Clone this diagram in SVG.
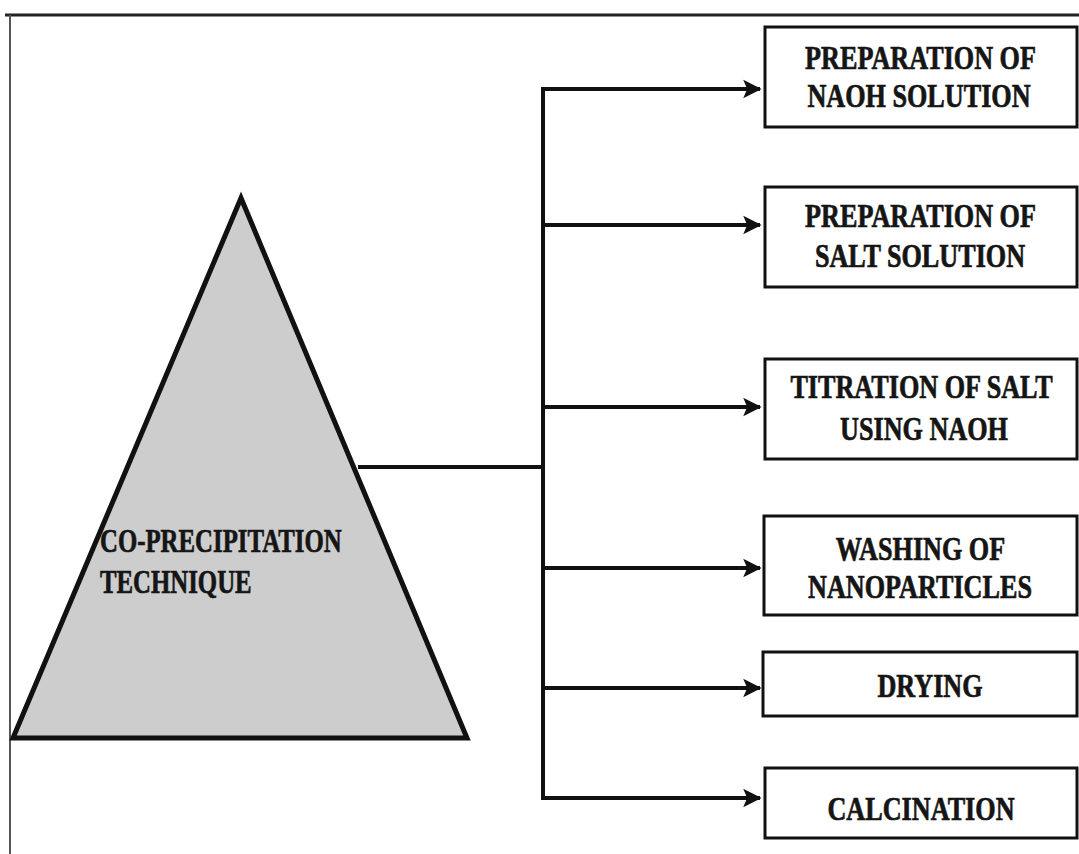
<svg xmlns="http://www.w3.org/2000/svg" width="1079" height="854" viewBox="0 0 1079 854">
<style>
.box{fill:#fff;stroke:#111;stroke-width:3}
.lbl{font-family:"Liberation Serif","Times New Roman",serif;font-weight:bold;font-size:34px;fill:#151515;stroke:#151515;stroke-width:0.7;text-anchor:middle}
.s{text-anchor:start}
.conn{fill:none;stroke:#111;stroke-width:4}
</style>
<defs>
<marker id="ah" markerWidth="5" markerHeight="5" refX="4.2" refY="2.5" orient="auto" markerUnits="strokeWidth">
<path d="M0,0.2 L4.6,2.5 L0,4.8 L1,2.5 Z" fill="#111"/>
</marker>
</defs>
<rect width="1079" height="854" fill="#fff"/>
<g id="frame">
<line x1="5" y1="15" x2="1079" y2="15" stroke="#222" stroke-width="3"/>
<line x1="10" y1="15" x2="10" y2="854" stroke="#555" stroke-width="2"/>
</g>
<g id="connectors">
<line class="conn" x1="358" y1="467" x2="543" y2="467"/>
<line class="conn" x1="543" y1="87" x2="543" y2="800"/>
<line class="conn" x1="541" y1="89" x2="760" y2="89" marker-end="url(#ah)"/>
<line class="conn" x1="543" y1="225" x2="760" y2="225" marker-end="url(#ah)"/>
<line class="conn" x1="543" y1="407" x2="760" y2="407" marker-end="url(#ah)"/>
<line class="conn" x1="543" y1="568" x2="760" y2="568" marker-end="url(#ah)"/>
<line class="conn" x1="543" y1="688" x2="760" y2="688" marker-end="url(#ah)"/>
<line class="conn" x1="541" y1="798" x2="760" y2="798" marker-end="url(#ah)"/>
</g>
<g id="triangle">
<polygon points="241,198 13,738 467,738" fill="#cdcdcd" stroke="#111" stroke-width="5" stroke-linejoin="miter"/>
<text class="lbl s" transform="translate(100,552) scale(0.73,1)">CO-PRECIPITATION</text>
<text class="lbl s" transform="translate(100,593) scale(0.73,1)">TECHNIQUE</text>
</g>
<g id="n1">
<rect class="box" x="765" y="27" width="312" height="100"/>
<text class="lbl" transform="translate(920.5,69) scale(0.77,1)">PREPARATION OF</text>
<text class="lbl" transform="translate(919,107) scale(0.77,1)">NAOH SOLUTION</text>
</g>
<g id="n2">
<rect class="box" x="765" y="187" width="312" height="100"/>
<text class="lbl" transform="translate(920.5,227) scale(0.77,1)">PREPARATION OF</text>
<text class="lbl" transform="translate(920,267) scale(0.77,1)">SALT SOLUTION</text>
</g>
<g id="n3">
<rect class="box" x="765" y="359" width="312" height="100"/>
<text class="lbl" transform="translate(921.5,398) scale(0.77,1)">TITRATION OF SALT</text>
<text class="lbl" transform="translate(924,440) scale(0.77,1)">USING NAOH</text>
</g>
<g id="n4">
<rect class="box" x="764" y="516" width="313" height="99"/>
<text class="lbl" transform="translate(920.5,560) scale(0.77,1)">WASHING OF</text>
<text class="lbl" transform="translate(920,598) scale(0.77,1)">NANOPARTICLES</text>
</g>
<g id="n5">
<rect class="box" x="763" y="652" width="314" height="64"/>
<text class="lbl" transform="translate(930,697) scale(0.77,1)">DRYING</text>
</g>
<g id="n6">
<rect class="box" x="765" y="768" width="312" height="70"/>
<text class="lbl" transform="translate(921,820) scale(0.77,1)">CALCINATION</text>
</g>
</svg>
